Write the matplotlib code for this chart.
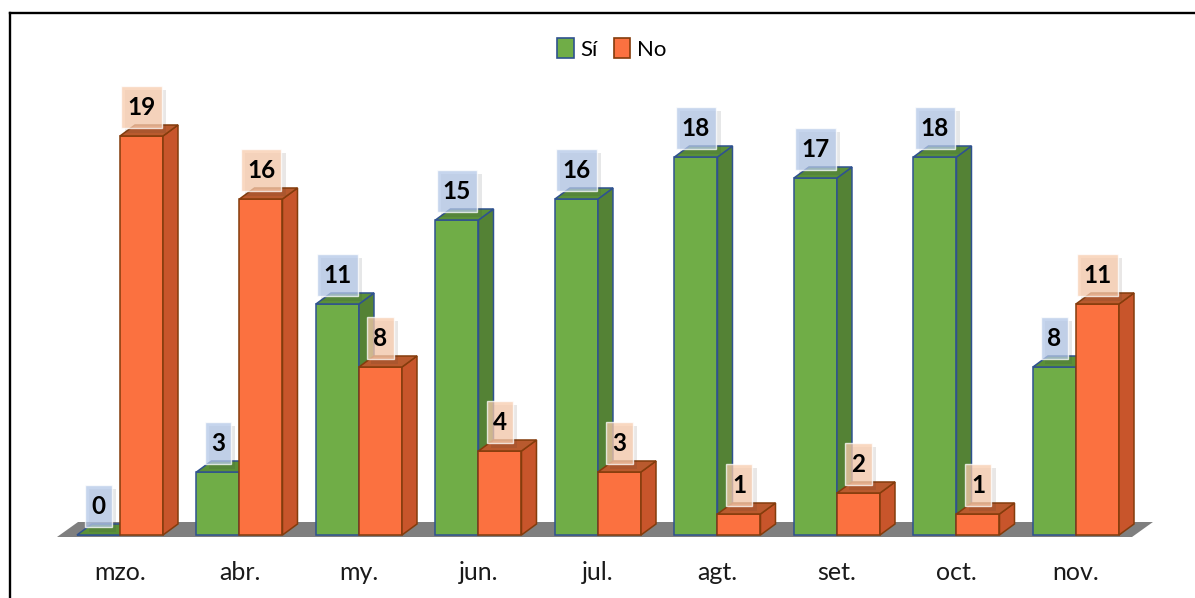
import matplotlib
matplotlib.use("Agg")
import matplotlib.pyplot as plt
from matplotlib.patches import Polygon, Patch
from matplotlib.path import Path
from matplotlib.lines import Line2D
import matplotlib.patheffects as pe

# ================= DATA =================
months = ["mzo.", "abr.", "my.", "jun.", "jul.", "agt.", "set.", "oct.", "nov."]
si_vals = [0, 3, 11, 15, 16, 18, 17, 18, 8]
no_vals = [19, 16, 8, 4, 3, 1, 2, 1, 11]
series_names = ["Sí", "No"]
# ========================================

# styling
W, H, DPI = 1195, 598, 100
BAR_W = 0.36
DX, DY = 0.1255, 0.524  # fake 3D depth, data units
FONT = "Lato"

SI_FRONT, SI_SIDE, SI_TOP, SI_EDGE = "#70AD47", "#548235", "#5A9038", "#2F528F"
NO_FRONT, NO_SIDE, NO_TOP, NO_EDGE = "#FB7140", "#C8552B", "#B95A2E", "#843C0C"
SI_BOX, NO_BOX = "#B4C7E7", "#F8CBAD"
FLOOR = "#7F7F7F"


def label_box(x0, y0, width, height, mutation_size):
    # taller than wide padding, like the office-style data labels
    padx = 0.26 * mutation_size
    pady = 0.40 * mutation_size
    x0, y0 = x0 - padx, y0 - pady
    x1, y1 = x0 + width + 2 * padx, y0 + height + 2 * pady
    return Path([(x0, y0), (x1, y0), (x1, y1), (x0, y1), (x0, y0)], closed=True)


fig = plt.figure(figsize=(W / DPI, H / DPI), dpi=DPI)
ax = fig.add_axes([0, 0, 1, 1])
ax.set_xlim(-1.004, 8.996)
ax.set_ylim(-3.0, 25.476)
ax.axis("off")

n = len(months)
x = list(range(n))

# floor
floor = Polygon(
    [(-BAR_W - 0.167, -0.095), (n - 1 + BAR_W + 0.109, -0.095),
     (n - 1 + BAR_W + 0.284, 0.619), (-BAR_W + 0.009, 0.619)],
    closed=True, facecolor=FLOOR, edgecolor="none", zorder=1,
)
ax.add_patch(floor)


def draw_series(lefts, vals, front, side, top, edge, z):
    ax.bar(lefts, vals, width=BAR_W, align="edge", color=front,
           edgecolor=edge, linewidth=1.1, zorder=z)
    for x0, h in zip(lefts, vals):
        x1 = x0 + BAR_W
        if h > 0:
            ax.add_patch(Polygon([(x1, 0), (x1 + DX, DY), (x1 + DX, h + DY), (x1, h)],
                                 closed=True, facecolor=side, edgecolor=edge,
                                 linewidth=1.1, zorder=z))
        ax.add_patch(Polygon([(x0, h), (x1, h), (x1 + DX, h + DY), (x0 + DX, h + DY)],
                             closed=True, facecolor=top, edgecolor=edge,
                             linewidth=1.1, zorder=z))


si_left = [i - BAR_W for i in x]
no_left = [i for i in x]
draw_series(si_left, si_vals, SI_FRONT, SI_SIDE, SI_TOP, SI_EDGE, 2)
draw_series(no_left, no_vals, NO_FRONT, NO_SIDE, NO_TOP, NO_EDGE, 3)

# value labels in translucent boxes
for lefts, vals, boxc in [(si_left, si_vals, SI_BOX), (no_left, no_vals, NO_BOX)]:
    for x0, v in zip(lefts, vals):
        t = ax.annotate(
            str(v), xy=(x0 + BAR_W / 2, v), xytext=(0, 12.5), textcoords="offset points",
            ha="center", va="bottom", fontsize=17.5, fontweight="bold", family=FONT,
            color="black", zorder=6,
            bbox=dict(boxstyle=label_box, facecolor=boxc, alpha=0.75,
                      edgecolor="white", linewidth=1.0),
        )
        t.get_bbox_patch().set_path_effects(
            [pe.SimplePatchShadow(offset=(3, -3), alpha=0.12), pe.Normal()]
        )

# category labels
for i, m in zip(x, months):
    ax.annotate(m, xy=(i, 0), xytext=(0, -27), textcoords="offset points",
                ha="center", va="center", fontsize=18, family=FONT, color="#1a1a1a")

# legend
handles = [
    Patch(facecolor=SI_FRONT, edgecolor=SI_EDGE, linewidth=1.2),
    Patch(facecolor=NO_FRONT, edgecolor=NO_EDGE, linewidth=1.2),
]
fig.legend(handles, series_names, loc="center", bbox_to_anchor=(0.512, 0.918),
           ncol=2, frameon=False, handlelength=0.75, handleheight=0.95,
           handletextpad=0.3, columnspacing=0.7,
           prop={"family": FONT, "size": 16})

# outer border (left and top only visible)
bx, by = 9.5 / W, 1 - 12.5 / H
fig.add_artist(Line2D([bx, bx], [0, by], transform=fig.transFigure, color="black", linewidth=1.7))
fig.add_artist(Line2D([bx, 1], [by, by], transform=fig.transFigure, color="black", linewidth=1.7))

fig.savefig("out.png", dpi=DPI)
plt.close(fig)
